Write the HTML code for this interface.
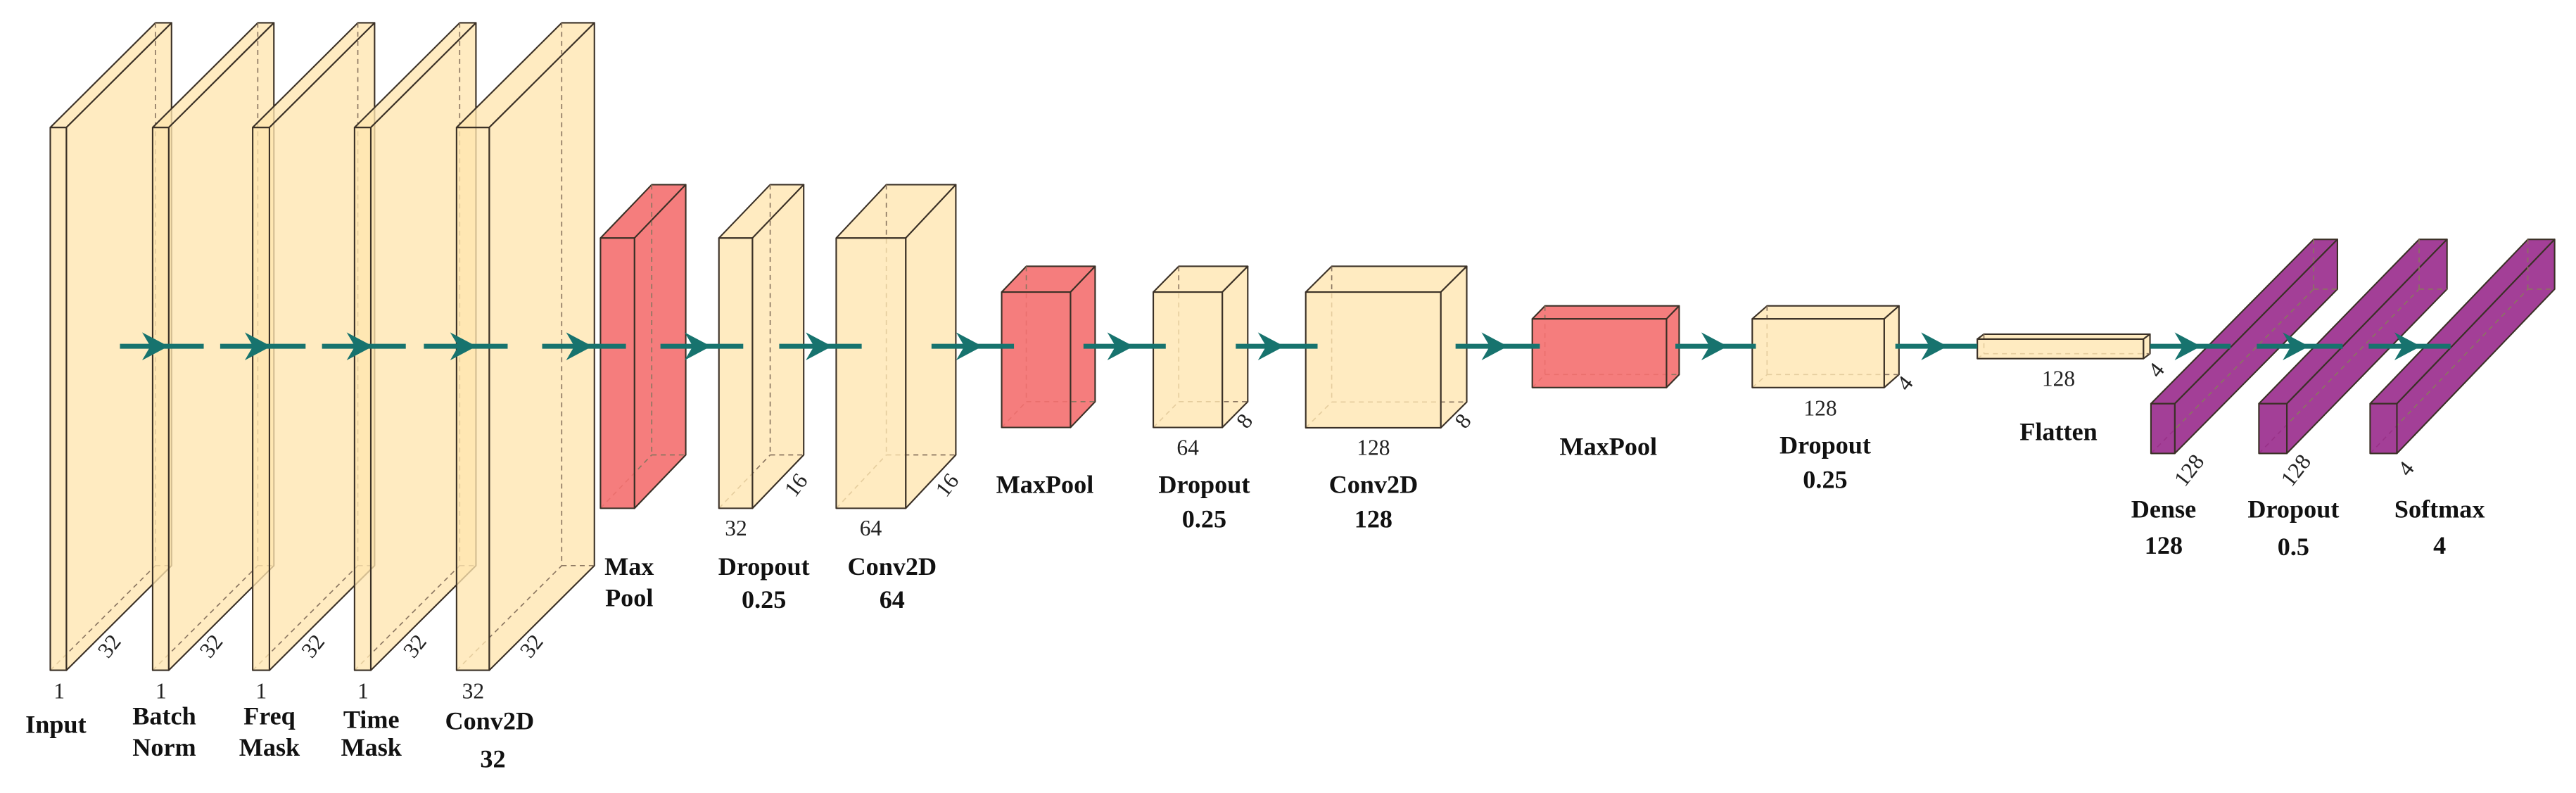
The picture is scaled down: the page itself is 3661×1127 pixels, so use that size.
<!DOCTYPE html>
<html><head><meta charset="utf-8"><style>
html,body{margin:0;padding:0;background:#fff}
svg{display:block}
.n{font-family:"Liberation Serif",serif;font-weight:bold;font-size:15.5px;fill:#111;text-anchor:middle}
.d{font-family:"Liberation Serif",serif;font-size:13.5px;fill:#222;text-anchor:middle}
</style></head><body>
<svg id="s" xmlns="http://www.w3.org/2000/svg" width="3661" height="1127" viewBox="0 0 1568 482.7">
<g id="boxes"></g>
<g id="arrows"></g>
<g>
<text class="d" x="36" y="425">1</text>
<text class="n" x="34" y="446">Input</text>
<text class="d" x="98" y="425">1</text>
<text class="n" x="100" y="441">Batch</text>
<text class="n" x="100" y="460">Norm</text>
<text class="d" x="159" y="425">1</text>
<text class="n" x="164" y="441">Freq</text>
<text class="n" x="164" y="460">Mask</text>
<text class="d" x="221" y="425">1</text>
<text class="n" x="226" y="443">Time</text>
<text class="n" x="226" y="460">Mask</text>
<text class="d" x="288" y="425">32</text>
<text class="n" x="298" y="444">Conv2D</text>
<text class="n" x="300" y="467">32</text>
<text class="d" transform="translate(70,396) rotate(-52)">32</text>
<text class="d" transform="translate(132,396) rotate(-52)">32</text>
<text class="d" transform="translate(194,396) rotate(-52)">32</text>
<text class="d" transform="translate(256,396) rotate(-52)">32</text>
<text class="d" transform="translate(327,396) rotate(-52)">32</text>
<text class="n" x="383" y="350">Max</text>
<text class="n" x="383" y="369">Pool</text>
<text class="d" x="448" y="326">32</text>
<text class="n" x="465" y="350">Dropout</text>
<text class="n" x="465" y="370">0.25</text>
<text class="d" x="530" y="326">64</text>
<text class="n" x="543" y="350">Conv2D</text>
<text class="n" x="543" y="370">64</text>
<text class="d" transform="translate(488,298) rotate(-52)">16</text>
<text class="d" transform="translate(580,298) rotate(-52)">16</text>
<text class="n" x="636" y="300">MaxPool</text>
<text class="d" x="723" y="277">64</text>
<text class="d" transform="translate(761,259) rotate(-52)">8</text>
<text class="n" x="733" y="300">Dropout</text>
<text class="n" x="733" y="321">0.25</text>
<text class="d" x="836" y="277">128</text>
<text class="d" transform="translate(894,259) rotate(-52)">8</text>
<text class="n" x="836" y="300">Conv2D</text>
<text class="n" x="836" y="321">128</text>
<text class="n" x="979" y="277">MaxPool</text>
<text class="d" x="1108" y="253">128</text>
<text class="d" transform="translate(1163,236) rotate(-52)">4</text>
<text class="n" x="1111" y="276">Dropout</text>
<text class="n" x="1111" y="297">0.25</text>
<text class="d" x="1253" y="235">128</text>
<text class="d" transform="translate(1316,228) rotate(-52)">4</text>
<text class="n" x="1253" y="268">Flatten</text>
<text class="d" transform="translate(1336,289) rotate(-52)">128</text>
<text class="d" transform="translate(1401,289) rotate(-52)">128</text>
<text class="d" transform="translate(1468,288) rotate(-52)">4</text>
<text class="n" x="1317" y="315">Dense</text>
<text class="n" x="1317" y="337">128</text>
<text class="n" x="1396" y="315">Dropout</text>
<text class="n" x="1396" y="338">0.5</text>
<text class="n" x="1485" y="315">Softmax</text>
<text class="n" x="1485" y="337">4</text>
</g>
</svg>
<script>
var NS="http://www.w3.org/2000/svg";
function el(p,t,a){var e=document.createElementNS(NS,t);for(var k in a)e.setAttribute(k,a[k]);p.appendChild(e);return e;}
var B=document.getElementById("boxes"),A=document.getElementById("arrows");
var Y="#FFE6B0",R="#F46F6F",P="#992A8C";
// x1,x2,y1,y2,dx,dy,color
var boxes=[
[30.6,40.4,77.6,408,64,-63.7,Y],
[92.9,102.7,77.6,408,64,-63.7,Y],
[153.8,164,77.6,408,64,-63.7,Y],
[215.8,225.7,77.6,408,64,-63.7,Y],
[277.9,297.8,77.6,408,64,-63.7,Y],
[365.5,386.2,144.9,309.4,31.2,-32.5,R],
[437.6,458,144.9,309.4,31.2,-32.5,Y],
[509,551.3,144.9,309.4,30.5,-32.5,Y],
[609.7,651.6,177.8,260.2,15,-15.7,R],
[702,744,177.8,260.2,15.5,-15.7,Y],
[794.8,877,177.8,260.4,15.8,-15.7,Y],
[932.7,1014.4,194.1,235.9,7.7,-7.9,R],
[1066.6,1146.9,194.1,235.9,9,-7.9,Y],
[1203.6,1304.7,206.4,218.3,4,-3,Y],
[1309.3,1323.8,245.7,276,99,-100,P],
[1375,1392,245.7,276,97.5,-100,P],
[1442.7,1459,245.7,276,96,-100,P]];
boxes.forEach(function(b){
var x1=b[0],x2=b[1],y1=b[2],y2=b[3],dx=b[4],dy=b[5],c=b[6];
var op=c==Y?0.78:0.9;
var st={stroke:"#3a3026","stroke-width":0.9,"stroke-linejoin":"round"};
function poly(pts,f,o){var a={points:pts.map(function(p){return p.join(",")}).join(" "),fill:f,"fill-opacity":o};for(var k in st)a[k]=st[k];el(B,"polygon",a);}
// back faces slightly
poly([[x1,y1],[x1+dx,y1+dy],[x2+dx,y1+dy],[x2,y1]],c,op);
poly([[x2,y1],[x2+dx,y1+dy],[x2+dx,y2+dy],[x2,y2]],c,op);
var ds={stroke:"#8a7560","stroke-width":0.7,"stroke-dasharray":"3,2.5",fill:"none"};
function dl(a,b2,c2,d){var o={x1:a,y1:b2,x2:c2,y2:d};for(var k in ds)o[k]=ds[k];el(B,"line",o);}
dl(x1+dx,y1+dy,x1+dx,y2+dy);dl(x1+dx,y2+dy,x2+dx,y2+dy);dl(x1,y2,x1+dx,y2+dy);
poly([[x1,y1],[x2,y1],[x2,y2],[x1,y2]],c,op);
});
var segs=[[73,124,102.5],[134,186,165],[196,247,227],[258,309,290],[330,381,360.6],
[402,452.4,432.7],[474.3,524.5,506.5],[567,617.2,598],[659.5,709.6,690],[752.2,802,781.7],
[886,937.3,917.8],[1019.8,1068.8,1051.6],[1153.7,1203.6,1185.4],[1308.8,1357.8,1339.7],[1373.7,1426,1405.5],[1441.8,1491.7,1473.5]];
var y=210.8;
segs.forEach(function(s){
el(A,"line",{x1:s[0],y1:y,x2:s[1],y2:y,stroke:"#17736E","stroke-width":3});
var t=s[2];
el(A,"path",{d:"M"+t+","+y+" L"+(t-16)+","+(y-8.5)+" L"+(t-11)+","+y+" L"+(t-16)+","+(y+8.5)+" Z",fill:"#17736E"});
});
</script>
</body></html>
